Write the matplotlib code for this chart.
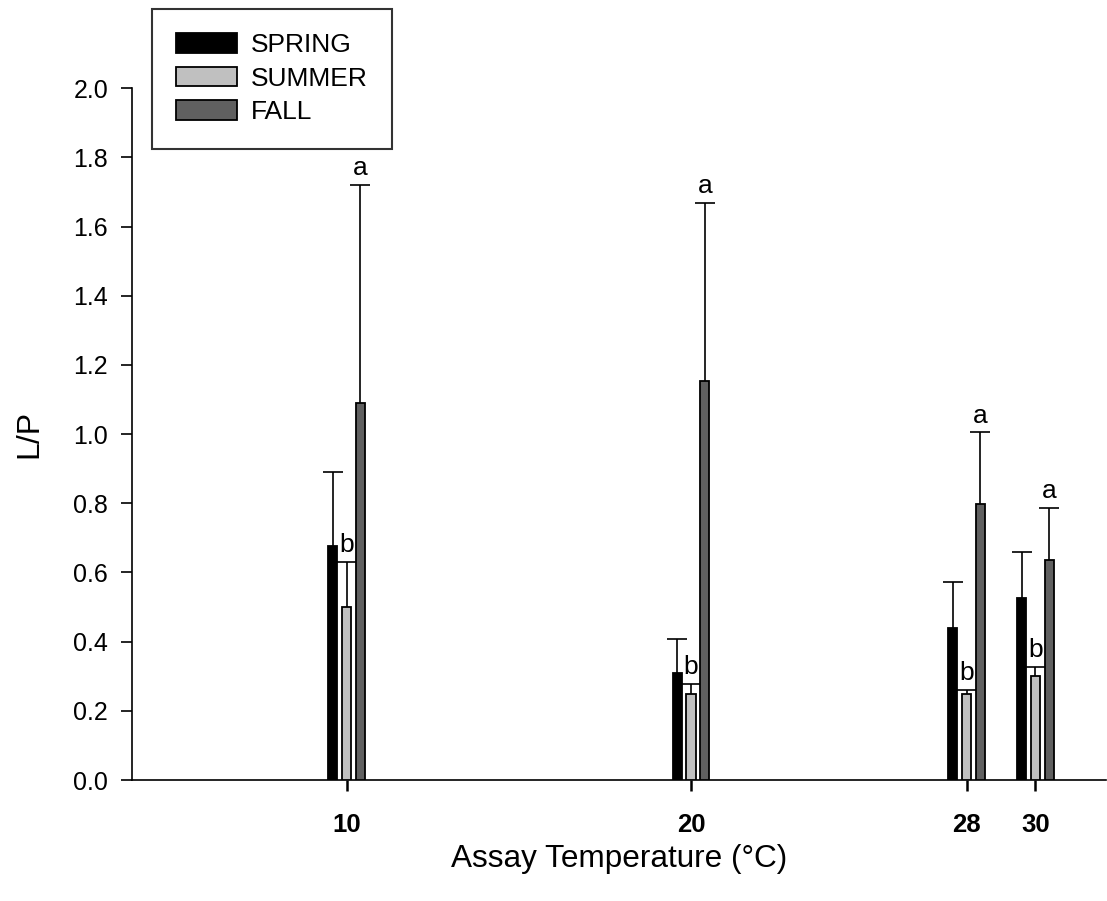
import numpy as np
import matplotlib
matplotlib.use("Agg")
import matplotlib.pyplot as plt

plt.rcParams['font.family'] = ['Liberation Sans', 'DejaVu Sans']

# values
temps = [10, 20, 28, 30]
spring = [0.677, 0.310, 0.439, 0.525]
spring_err = [0.215, 0.098, 0.133, 0.133]
summer = [0.499, 0.249, 0.249, 0.302]
summer_err = [0.131, 0.029, 0.011, 0.026]
fall = [1.090, 1.155, 0.798, 0.636]
fall_err = [0.630, 0.513, 0.207, 0.151]
summer_letters = ['b', 'b', 'b', 'b']
fall_letters = ['a', 'a', 'a', 'a']

series = [
    ("SPRING", spring, spring_err, "black", -0.4, None),
    ("SUMMER", summer, summer_err, "#c0c0c0", 0.0, summer_letters),
    ("FALL", fall, fall_err, "#606060", 0.4, fall_letters),
]

W, H = 1107, 901
fig = plt.figure(figsize=(W / 100, H / 100), dpi=100)
ax = fig.add_axes([131.7 / W, 1 - 780 / H, (1106 - 131.7) / W, (780 - 88.3) / H])

x = np.array(temps, dtype=float)
width = 0.27
cap = 0.29  # half width of the error caps, in x units
handles = []
for name, vals, errs, color, off, letters in series:
    vals = np.array(vals)
    errs = np.array(errs)
    xs = x + off
    b = ax.bar(xs, vals, width=width, color=color, edgecolor="black",
               linewidth=1.3, label=name, zorder=3)
    handles.append(b)
    # upper error bars only
    ax.vlines(xs, vals, vals + errs, color="black", linewidth=1.2, zorder=2)
    ax.hlines(vals + errs, xs - cap, xs + cap, color="black", linewidth=1.2, zorder=2)
    if letters:
        for xi, v, e, t in zip(xs, vals, errs, letters):
            ax.annotate(t, (xi, v + e), xytext=(0, 3.5), textcoords="offset points",
                        ha="center", va="bottom", fontsize=19)

ax.set_xlim(3.76, 32.05)
ax.set_ylim(0, 2.0)
ax.set_yticks(np.arange(0, 2.01, 0.2))
ax.set_yticklabels([f"{v:.1f}" for v in np.arange(0, 2.01, 0.2)])
ax.set_xticks(temps)
ax.set_xticklabels([str(t) for t in temps], fontweight="bold")

for s in ["top", "right"]:
    ax.spines[s].set_visible(False)
for s in ["left", "bottom"]:
    ax.spines[s].set_linewidth(1.2)

ax.tick_params(axis="y", direction="out", length=8, width=1.2, pad=9, labelsize=18)
ax.tick_params(axis="x", direction="out", length=8, width=1.8, pad=16, labelsize=18.5)

ax.set_xlabel("Assay Temperature (°C)", fontsize=22.7)
ax.set_ylabel("L/P", fontsize=23)
ax.xaxis.set_label_coords(0.5, -0.093)
ax.yaxis.set_label_coords(-0.09, 0.5)

leg = fig.legend(handles=handles, loc="upper left",
                 bbox_to_anchor=(151.7 / W, 1 - 9 / H), fontsize=19,
                 frameon=True, fancybox=False, handlelength=2.3,
                 handleheight=0.76, handletextpad=0.55, labelspacing=0.36,
                 borderpad=0.92, borderaxespad=0)
leg.get_frame().set_edgecolor("black")
leg.get_frame().set_linewidth(1.5)

fig.savefig("out.png", dpi=100)
